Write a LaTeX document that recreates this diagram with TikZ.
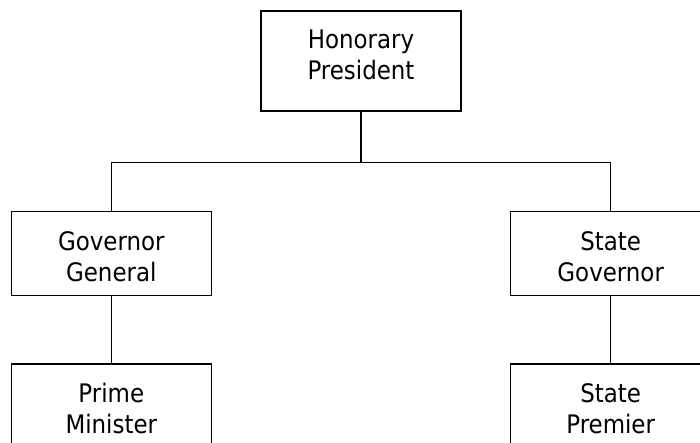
\documentclass[tikz,border=0pt]{standalone}
\usepackage{fontspec}
\newfontfamily\boxfont{DejaVu Sans Condensed}
\begin{document}
\begin{tikzpicture}[x=1pt,y=-1pt,
  box/.style={draw, line width=1.5pt, minimum width=200pt, minimum height=84pt,
    inner sep=0pt},
  txt/.style={inner sep=0pt, align=center, font=\boxfont\fontsize{25.5}{31.5}\selectfont},
  link/.style={line width=1.5pt}]
\useasboundingbox (0,0) rectangle (700,442);
\clip (0,0) rectangle (700,442);
\node[box, minimum height=100pt] (hp) at (361,61) {};
\node[box] (gg) at (111.3,253.5) {};
\node[box] (sg) at (610.7,253.5) {};
\node[box] (pm) at (111.3,406) {};
\node[box] (sp) at (610.7,406) {};
\node[txt] (hpt) at (361,55) {Honorary\\President};
\node[txt] (ggt) at (111.3,256.5) {Governor\\General};
\node[txt] (sgt) at (610.7,256.5) {State\\Governor};
\node[txt] (pmt) at (111.3,408.5) {Prime\\Minister};
\node[txt] (spt) at (610.7,408.5) {State\\Premier};
\coordinate (j) at (361,162.7);
\draw[link] (hp.south) -- (j);
\draw[link] (gg.north) |- (j) -| (sg.north);
\draw[link] (gg.south) -- (pm.north);
\draw[link] (sg.south) -- (sp.north);
\end{tikzpicture}
\end{document}
